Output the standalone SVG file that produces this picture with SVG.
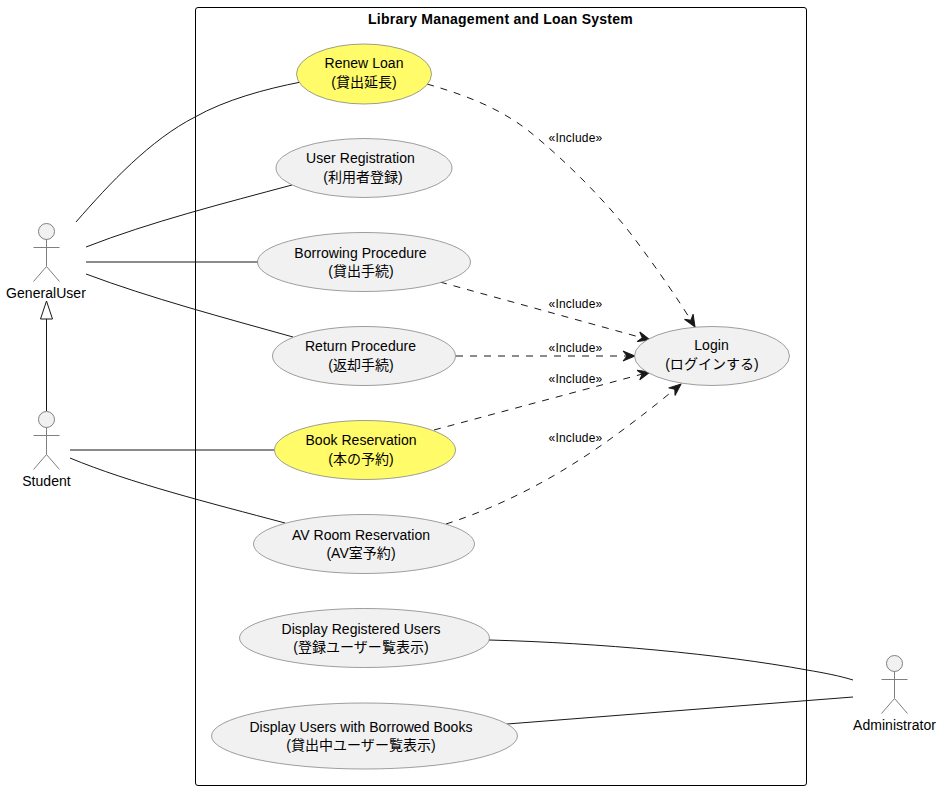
<svg xmlns="http://www.w3.org/2000/svg" width="942" height="790" viewBox="0 0 942 790">
<style>
text{font-family:"Liberation Sans","Noto Sans CJK JP",sans-serif;font-size:14px;fill:#000;text-anchor:middle;letter-spacing:.04px}
.t{font-weight:bold;letter-spacing:.24px}
.s{font-size:12px;letter-spacing:.2px}
.u{fill:#F1F1F1;stroke:#7f7f7f;stroke-width:.75}
.y{fill:#FFFB69;stroke:#7f7f7f;stroke-width:.75}
.a{fill:none;stroke:#7f7f7f;stroke-width:1}
.h{fill:#F1F1F1;stroke:#7f7f7f;stroke-width:1}
.l{fill:none;stroke:#181818;stroke-width:1}
.d{fill:none;stroke:#181818;stroke-width:1;stroke-dasharray:7 7}
</style>
<defs>
<marker id="arr" markerUnits="userSpaceOnUse" markerWidth="14" markerHeight="12" refX="12" refY="5" orient="auto" overflow="visible"><path d="M0 0L12 5L0 10L4 5Z" fill="#181818" stroke="#181818"/></marker>
<g id="actor"><circle class="h" cx="0" cy="8" r="8"/><path class="a" d="M0 16V43M-13 24H13M0 43L-13 58M0 43L13 58"/></g>
</defs>
<rect id="boundary" x="195.500" y="7.500" width="611" height="778" rx="2.500" fill="none" stroke="#000" stroke-width="1"/>
<text class="t" x="500.500" y="24">Library Management and Loan System</text>
<g id="connectors">
<path class="l" d="M76 222C110 183 150 140 195 117C225 100 265 89 301 82"/>
<path class="l" d="M86 247C150 222 225 203 292 185"/>
<path class="l" d="M86 262H258"/>
<path class="l" d="M86 274C150 298 225 318 293 337"/>
<path class="l" d="M46.500 411V318"/>
<path d="M46.500 301L40.500 319H52.500Z" fill="#fff" stroke="#181818"/>
<path class="l" d="M70 450H274"/>
<path class="l" d="M70 458C130 483 210 503 285 523"/>
<path class="l" d="M489 640C600 643 720 654 807 670C825 673 840 676 853 680"/>
<path class="l" d="M507 724L853 697"/>
<path class="d" marker-end="url(#arr)" d="M427 84C465 95 500 108 530 132C565 160 610 205 637 242C660 273 680 302 695 327"/>
<path class="d" marker-end="url(#arr)" d="M440 282L650 340"/>
<path class="d" marker-end="url(#arr)" d="M456 356H635"/>
<path class="d" marker-end="url(#arr)" d="M434 430L650 372"/>
<path class="d" marker-end="url(#arr)" d="M446 524C490 510 535 488 573 464C610 441 650 410 681 384"/>
<text class="s" x="575.500" y="142">«Include»</text>
<text class="s" x="575.500" y="308">«Include»</text>
<text class="s" x="575.500" y="352">«Include»</text>
<text class="s" x="575.500" y="383">«Include»</text>
<text class="s" x="575.500" y="442">«Include»</text>
</g>
<g id="GeneralUser"><use href="#actor" x="46.500" y="223.500"/><text x="46" y="298">GeneralUser</text></g>
<g id="Student"><use href="#actor" x="46.500" y="411.500"/><text x="46.500" y="486">Student</text></g>
<g id="Administrator"><use href="#actor" x="894.500" y="655.500"/><text x="894.500" y="730">Administrator</text></g>
<g id="RenewLoan"><ellipse class="y" cx="364" cy="74" rx="67.500" ry="30"/><text x="364" y="68">Renew Loan</text><text x="364" y="87">(貸出延長)</text></g>
<g id="UserRegistration"><ellipse class="u" cx="364" cy="168" rx="88" ry="29.500"/><text x="360.500" y="163">User Registration</text><text x="363" y="182">(利用者登録)</text></g>
<g id="Borrowing"><ellipse class="u" cx="364" cy="262" rx="106.500" ry="29.500"/><text x="360.500" y="258">Borrowing Procedure</text><text x="361" y="276">(貸出手続)</text></g>
<g id="Return"><ellipse class="u" cx="364" cy="356" rx="91.500" ry="29.500"/><text x="360.500" y="351">Return Procedure</text><text x="361" y="370">(返却手続)</text></g>
<g id="BookReservation"><ellipse class="y" cx="365" cy="450" rx="90.500" ry="29.500"/><text x="361" y="445">Book Reservation</text><text x="361" y="464">(本の予約)</text></g>
<g id="AVRoom"><ellipse class="u" cx="364" cy="544" rx="110.500" ry="29.500"/><text x="361" y="540">AV Room Reservation</text><text x="361" y="558">(AV室予約)</text></g>
<g id="DisplayRegistered"><ellipse class="u" cx="364.500" cy="638" rx="125" ry="29.500"/><text x="361" y="634">Display Registered Users</text><text x="361" y="652">(登録ユーザー覧表示)</text></g>
<g id="DisplayBorrowed"><ellipse class="u" cx="364.500" cy="736" rx="153" ry="33"/><text x="361" y="732">Display Users with Borrowed Books</text><text x="361" y="750">(貸出中ユーザー覧表示)</text></g>
<g id="Login"><ellipse class="u" cx="712" cy="356" rx="77.500" ry="29.500"/><text x="711.500" y="350">Login</text><text x="712" y="369">(ログインする)</text></g>
</svg>
